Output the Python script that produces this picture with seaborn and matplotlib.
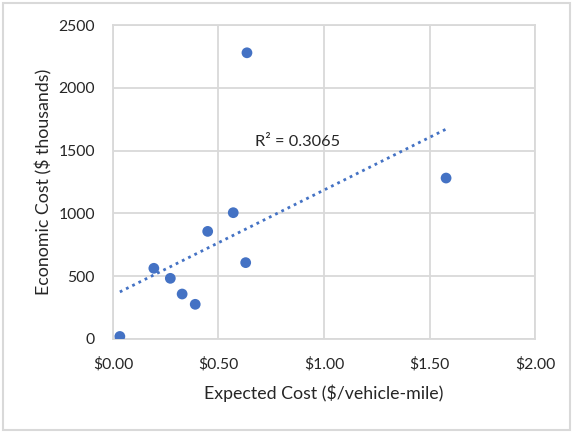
import numpy as np
import pandas as pd
import matplotlib
matplotlib.use("Agg")
import matplotlib.pyplot as plt
from matplotlib.patches import Rectangle
from matplotlib.ticker import FuncFormatter
import seaborn as sns

# Expected cost per vehicle-mile vs. economic cost
expected_cost = [0.033, 0.194, 0.272, 0.328, 0.390, 0.449, 0.570, 0.629, 0.635, 1.578]
economic_cost = [20, 563, 483, 358, 276, 857, 1006, 608, 2280, 1282]
x_ticks = [0.0, 0.5, 1.0, 1.5, 2.0]
y_ticks = [0, 500, 1000, 1500, 2000, 2500]
r2_label = "R² = 0.3065"

df = pd.DataFrame({"expected": expected_cost, "economic": economic_cost})

sns.set_theme(style="white")
plt.rcParams["font.family"] = ["Lato", "DejaVu Sans"]

blue = "#4472C4"
grid_gray = "#D9D9D9"
text_col = "#262626"

fig = plt.figure(figsize=(5.73, 4.34), dpi=100)
ax = fig.add_axes([0.197, 0.219, 0.737, 0.723])

# outer chart border
fig.patches.append(Rectangle((0.006, 0.01), 0.988, 0.983, transform=fig.transFigure,
                             fill=False, edgecolor=grid_gray, linewidth=1.5))

sns.regplot(data=df, x="expected", y="economic", ax=ax, ci=None, truncate=True,
            scatter_kws=dict(s=60, color=blue, edgecolor="none", zorder=3, alpha=1),
            line_kws=dict(color=blue, linestyle=(0, (1, 1.5)), linewidth=2.0, zorder=2))

ax.set_xlim(0, 2.0)
ax.set_ylim(0, 2500)
ax.set_xticks(x_ticks)
ax.set_yticks(y_ticks)
ax.xaxis.set_major_formatter(FuncFormatter(lambda v, p: f"${v:.2f}"))
ax.grid(True, color=grid_gray, linewidth=1.3)
ax.set_axisbelow(True)
for s in ax.spines.values():
    s.set_color(grid_gray)
    s.set_linewidth(1.3)

ax.tick_params(axis="both", length=0, labelsize=11.3, labelcolor=text_col)
ax.tick_params(axis="y", pad=13)
ax.tick_params(axis="x", pad=13)

ax.set_xlabel("Expected Cost ($/vehicle-mile)", fontsize=12.8, color=text_col, labelpad=9)
ax.set_ylabel("Economic Cost ($ thousands)", fontsize=12.8, color=text_col, labelpad=4)

ax.text(0.672, 1570, r2_label, fontsize=11.8, color=text_col, ha="left", va="center")

fig.savefig("out.png", dpi=100)
